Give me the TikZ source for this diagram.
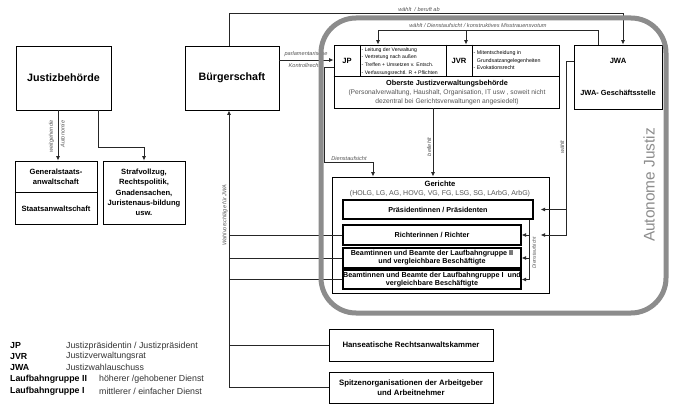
\documentclass[tikz,border=0pt]{standalone}
\usepackage{fontspec}
\setmainfont{Liberation Sans}
\usetikzlibrary{arrows.meta,calc}
\definecolor{bandc}{HTML}{8C8C8C}
\definecolor{lbl}{HTML}{555555}
\definecolor{dtxt}{HTML}{333333}
\begin{document}
\begin{tikzpicture}[x=1pt,y=-1pt,
  box/.style={draw=black,line width=0.9pt,inner sep=1pt,align=center},
  ibox/.style={draw=black,line width=1.2pt,inner sep=1pt,align=center,font=\bfseries\fontsize{7.2}{8.2}\selectfont},
  conn/.style={draw=black!85,line width=0.8pt},
  tip/.style={-{Latex[length=4.5pt,width=4pt]}},
  lab/.style={font=\fontsize{5.6}{6.5}\selectfont\itshape,text=lbl,inner sep=0pt},
  txt/.style={inner sep=0pt,align=center},
  leg/.style={anchor=west,inner sep=0pt,font=\bfseries\fontsize{8.8}{10}\selectfont},
  legd/.style={anchor=west,inner sep=0pt,text=dtxt,font=\fontsize{8.8}{10}\selectfont},
]
\useasboundingbox (0,0) rectangle (680,412);
\fill[white] (0,0) rectangle (680,412);

% ---- left part
\node[box,minimum width=95pt,minimum height=64pt,font=\bfseries\fontsize{10.7}{12}\selectfont] (jb) at (63.5,78) {Justizbehörde};
\node[box,minimum width=94pt,minimum height=64pt,font=\bfseries\fontsize{10.7}{12}\selectfont] (bs) at (232,78) {Bürgerschaft};
\node[box,minimum width=82pt,minimum height=63pt] (gsa) at (56,192.5) {};
\draw[line width=0.9pt] (gsa.west) -- (gsa.east);
\node[txt,font=\bfseries\fontsize{7.6}{10}\selectfont] (gsat) at (56,177) {Generalstaats-\\anwaltschaft};
\node[txt,font=\bfseries\fontsize{7.6}{10}\selectfont] (sat) at (56,208.5) {Staatsanwaltschaft};
\node[box,minimum width=82pt,minimum height=63pt,inner sep=0pt,font=\bfseries\fontsize{7.6}{10.3}\selectfont] (sv) at (144,192.5) {Strafvollzug,\\Rechtspolitik,\\Gnadensachen,\\Juristenaus-bildung\\usw.};

% ---- top box
\node[box,minimum width=225pt,minimum height=63pt] (ojb) at (446.5,76.5) {};
\draw[line width=0.9pt] (ojb.west) -- (ojb.east);
\draw[line width=0.9pt] ([xshift=-86.5pt]ojb.north) -- ([xshift=-86.5pt]ojb.center);
\draw[line width=0.9pt] (ojb.north) -- (ojb.center);
\draw[line width=0.9pt] ([xshift=25.5pt]ojb.north) -- ([xshift=25.5pt]ojb.center);
\node[txt,font=\bfseries\fontsize{7.6}{9}\selectfont] (jp) at (347,61) {JP};
\node[txt,font=\bfseries\fontsize{7.6}{9}\selectfont] (jvr) at (459,61) {JVR};
\node[inner sep=0pt,anchor=west,align=left,font=\fontsize{5.1}{7.7}\selectfont] (jpt) at (361.5,61.5) {- Leitung der Verwaltung\\- Vertretung nach außen\\- Treffen + Umsetzen v. Entsch.\\- Verfassungsrechtl. R + Pflichten};
\node[inner sep=0pt,anchor=west,align=left,font=\fontsize{5.3}{7.5}\selectfont] (jvrt) at (473.5,60.5) {- Mitentscheidung in\\\phantom{- }Grundsatzangelegenheiten\\- Evokationsrecht};
\node[txt,font=\bfseries\fontsize{7.3}{8}\selectfont] (ojbt) at (447,84) {Oberste Justizverwaltungsbehörde};
\node[txt,text=lbl,font=\fontsize{6.7}{9}\selectfont] (ojbp) at (447,97.5) {(Personalverwaltung, Haushalt, Organisation, IT usw , soweit nicht\\dezentral bei Gerichtsverwaltungen angesiedelt)};

% ---- JWA
\node[box,minimum width=88pt,minimum height=64pt] (jwa) at (618,77) {};
\node[txt,font=\bfseries\fontsize{7.6}{9}\selectfont] (jwat) at (618,61) {JWA};
\node[txt,font=\bfseries\fontsize{7.4}{9}\selectfont] (jwag) at (618,93) {JWA- Geschäftsstelle};

% ---- Gerichte
\node[box,minimum width=217pt,minimum height=116pt] (ger) at (440.5,235) {};
\node[txt,font=\bfseries\fontsize{7.6}{9}\selectfont] (gert) at (440,183.5) {Gerichte};
\node[txt,text=lbl,font=\fontsize{7}{8}\selectfont] (gerl) at (440,193.5) {(HOLG, LG, AG, HOVG, VG, FG, LSG, SG, LArbG, ArbG)};
\node[ibox,minimum width=190pt,minimum height=19pt] (praes) at (438,209.5) {Präsidentinnen / Präsidenten};
\node[ibox,minimum width=178pt,minimum height=20pt] (richter) at (432,235) {Richterinnen / Richter};
\node[ibox,minimum width=178pt,minimum height=20pt] (b2) at (432,258) {Beamtinnen und Beamte der Laufbahngruppe II\\und vergleichbare Beschäftigte};
\node[ibox,minimum width=178pt,minimum height=19pt,inner sep=0pt] (b1) at (432,279.5) {Beamtinnen und Beamte der Laufbahngruppe I~~und\\vergleichbare Beschäftigte};

% ---- bottom boxes
\node[box,minimum width=164pt,minimum height=32pt,font=\bfseries\fontsize{7.8}{9.5}\selectfont] (hrak) at (411,345) {Hanseatische Rechtsanwaltskammer};
\node[box,minimum width=164pt,minimum height=31pt,font=\bfseries\fontsize{7.8}{10}\selectfont] (spitz) at (411,387.5) {Spitzenorganisationen der Arbeitgeber\\und Arbeitnehmer};

% ---- legend
\node[leg] (lg1) at (10,346) {JP};
\node[leg] (lg2) at (10,356.5) {JVR};
\node[leg] (lg3) at (10,367.5) {JWA};
\node[leg] (lg4) at (10,379) {Laufbahngruppe II};
\node[leg] (lg5) at (10,391) {Laufbahngruppe I};
\node[legd] (ld1) at (66,346) {Justizpräsidentin / Justizpräsident};
\node[legd] (ld2) at (66,356.5) {Justizverwaltungsrat};
\node[legd] (ld3) at (66,367.5) {Justizwahlauschuss};
\node[legd] (ld4) at (99,379) {höherer /gehobener Dienst};
\node[legd] (ld5) at (99,391) {mittlerer / einfacher Dienst};

% ---- connectors
% Buergerschaft -> JWA
\draw[conn,tip] ([xshift=-3pt]bs.north) -- ++(0,-32) -| ([xshift=5pt]jwa.north);
\node[lab] (l1) at (419,9) {wählt~~/ beruft ab};
% JWA -> JP / JVR
\draw[conn,tip] ([xshift=-20pt]jwa.north) -- ++(0,-14) -| ([xshift=-68.5pt]ojb.north);
\draw[conn,tip] ([xshift=19.5pt,yshift=14pt]ojb.north) -- ([xshift=19.5pt]ojb.north);
\node[lab] (l2) at (478,25) {wählt / Dienstaufsicht / konstruktives Misstrauensvotum};
% parlamentarische Kontrollrechte
\coordinate (p1) at ([yshift=18pt]bs.east);
\draw[conn,tip] (p1) -- (p1 -| ojb.west);
\node[lab] (l3a) at (306,54.5) {parlamentarische};
\node[lab] (l3b) at (306,65) {Kontrollrechte};
% Dienstaufsicht JP -> Gerichte
\draw[conn,tip] ([yshift=9.5pt]ojb.west) -- ++(-9,0) |- ([xshift=-67.5pt,yshift=14pt]ger.north) -- ([xshift=-67.5pt]ger.north);
\node[lab] (l4) at (349,158.5) {Dienstaufsicht};
% befiehlt
\coordinate (b0) at ([xshift=-13.5pt]ojb.south);
\draw[conn,tip] (b0) -- (b0 |- ger.north);
\node[lab,rotate=90] (l5) at (429,147) {befiehlt};
% JWA waehlt
\coordinate (w1) at ([yshift=16pt]jwa.west);
\coordinate (wx) at ([xshift=-7pt]w1);
\coordinate (wa) at ([xshift=7pt]praes.east);
\draw[conn,tip] (w1) -- (wx) |- (wa |- richter.east);
\draw[conn,tip] (wx |- praes.east) -- (wa);
\node[lab,rotate=90] (l6) at (562,147) {wählt};
% Dienstaufsicht Praesidenten
\coordinate (d0) at ([xshift=91pt]praes.south);
\draw[conn,tip] (d0) |- (b1.east);
\draw[conn,tip] (d0 |- richter.east) -- (richter.east);
\draw[conn,tip] (d0 |- b2.east) -- (b2.east);
\node[lab,rotate=90,font=\fontsize{5}{6}\selectfont\itshape] (l7) at (534,253) {Dienstaufsicht};
% Wahlvorschlaege
\coordinate (v0) at ([xshift=-3pt]bs.south);
\draw[conn,tip] (spitz.west) -| (v0);
\foreach \n in {hrak,b1,b2,richter} \draw[conn] (\n.west) -- (\n.west -| v0);
\node[lab,rotate=90] (l8) at (225,215) {Wahlvorschläge für JWA};
% Justizbehoerde
\coordinate (j1) at ([xshift=-5.5pt]jb.south);
\draw[conn,tip] (j1) -- (j1 |- gsa.north);
\node[lab,rotate=90,anchor=east] (l9a) at (51.5,120.5) {weitgehende};
\node[lab,rotate=90,anchor=east] (l9b) at (62.5,120.5) {Autonomie};
\draw[conn,tip] ([xshift=34.5pt]jb.south) |- ([yshift=13pt]sv.north) -- (sv.north);

% ---- autonomous frame
\draw[bandc,line width=5pt,rounded corners=35pt] (321,18) rectangle (666,313);
\node[rotate=90,text=bandc,inner sep=0pt,font=\fontsize{15.4}{17}\selectfont] (aj) at (649,185) {Autonome Justiz};
\end{tikzpicture}
\end{document}
